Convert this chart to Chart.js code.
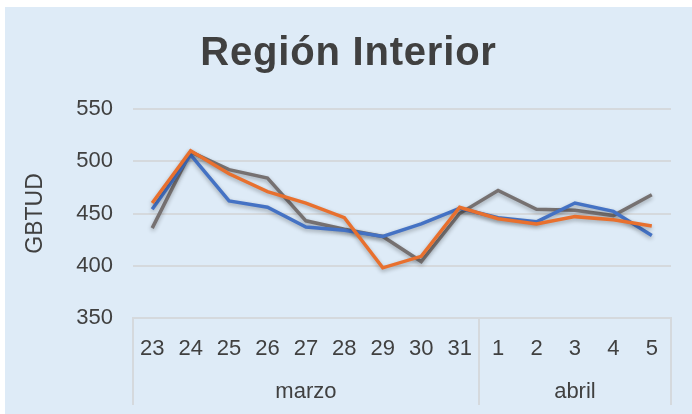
<!DOCTYPE html>
<html>
<head>
<meta charset="utf-8">
<style>
    html, body { margin:0; padding:0; background:#fff; }
    #wrap {
        position:absolute; left:5px; top:7px;
        width:687px; height:407px;
        background:#deebf7;
    }
</style>
</head>
<body>
<div id="wrap"><canvas id="myChart"></canvas></div>
<script src="https://cdn.jsdelivr.net/npm/chart.js@4"></script>
<script>
var title = 'Región Interior';
var days = ['23','24','25','26','27','28','29','30','31','1','2','3','4','5'];
var months = ['marzo','abril'];
var monthSpans = [9, 5];

var gray   = [436, 509, 492, 484, 443, 435, 428, 404, 450, 472, 454, 453, 448, 468];
var blue   = [454, 506, 462, 456, 437, 434, 428, 440, 455, 446, 442, 460, 452, 429];
var orange = [460, 510, 488, 471, 460, 446, 398, 409, 456, 445, 440, 447, 444, 438];

var yTicks = [350, 400, 450, 500, 550];

var txt = '#404040';
var gridCol = '#d5d9dd';
var fam = '"Liberation Sans", Arial, sans-serif';

// title centred on the whole card, not just the padded box
var cardTitle = {
    id: 'cardTitle',
    afterDraw: function(chart){
        var ctx = chart.ctx;
        ctx.save();
        ctx.fillStyle = txt;
        ctx.font = 'bold 40px ' + fam;
        ctx.letterSpacing = '0.8px';
        ctx.textAlign = 'center';
        ctx.textBaseline = 'alphabetic';
        ctx.fillText(title, chart.width / 2, 58);
        ctx.restore();
    }
};

// month row + vertical separators under the day labels
var groupAxis = {
    id: 'groupAxis',
    afterDraw: function(chart){
        var ctx = chart.ctx, x = chart.scales.x, area = chart.chartArea;
        var half = (x.getPixelForValue(1) - x.getPixelForValue(0)) / 2;
        var bottom = chart.height - 9;
        ctx.save();
        ctx.strokeStyle = gridCol;
        ctx.lineWidth = 2;
        var start = 0;
        var edges = [x.getPixelForValue(0) - half];
        for (var i = 0; i < months.length; i++){
            var end = start + monthSpans[i] - 1;
            var l = x.getPixelForValue(start) - half;
            var r = x.getPixelForValue(end) + half;
            edges.push(r);
            ctx.fillStyle = txt;
            ctx.font = '22px ' + fam;
            ctx.textAlign = 'center';
            ctx.textBaseline = 'middle';
            ctx.fillText(months[i], (l + r) / 2, area.bottom + 74);
            start = end + 1;
        }
        edges.forEach(function(e){
            ctx.beginPath();
            ctx.moveTo(Math.round(e), area.bottom);
            ctx.lineTo(Math.round(e), bottom);
            ctx.stroke();
        });
        ctx.restore();
    }
};

var shadow = {
    id: 'shadow',
    beforeDatasetDraw: function(chart){
        var ctx = chart.ctx;
        ctx.save();
        ctx.shadowColor = 'rgba(0,0,0,0.3)';
        ctx.shadowBlur = 4;
        ctx.shadowOffsetY = 2;
    },
    afterDatasetDraw: function(chart){
        chart.ctx.restore();
    }
};

function line(data, color, ord){
    return {
        data: data,
        borderColor: color,
        backgroundColor: color,
        borderWidth: 3.5,
        pointRadius: 0,
        tension: 0,
        fill: false,
        order: ord
    };
}

var myChart = new Chart(document.getElementById('myChart'), {
    type: 'line',
    data: {
        labels: days,
        datasets: [
            line(gray, '#767171', 3),
            line(blue, '#4472c4', 2),
            line(orange, '#e8702e', 1)
        ]
    },
    plugins: [groupAxis, shadow, cardTitle],
    options: {
        responsive: true,
        maintainAspectRatio: false,
        animation: false,
        layout: { padding: { left: 0, right: 21, top: 102, bottom: 0 } },
        plugins: {
            legend: { display: false },
            tooltip: { enabled: false },
            title: { display: false }
        },
        scales: {
            x: {
                offset: true,
                grid: { display: false, drawTicks: false },
                border: { display: true, color: gridCol, width: 2 },
                ticks: {
                    color: txt,
                    font: { family: fam, size: 22 },
                    padding: 18,
                    maxRotation: 0,
                    autoSkip: false
                },
                afterFit: function(s){ s.height = 96; }
            },
            y: {
                min: 350,
                max: 550,
                afterBuildTicks: function(s){
                    s.ticks = yTicks.map(function(v){ return { value: v }; });
                },
                grid: { color: gridCol, lineWidth: 2, drawTicks: false },
                border: { display: false },
                ticks: {
                    color: txt,
                    font: { family: fam, size: 22 },
                    padding: 20
                },
                title: {
                    display: true,
                    text: 'GBTUD',
                    color: txt,
                    font: { family: fam, size: 23 },
                    padding: { top: 17, bottom: 0 }
                },
                afterFit: function(s){ s.width = 128; }
            }
        }
    }
});
</script>
</body>
</html>
